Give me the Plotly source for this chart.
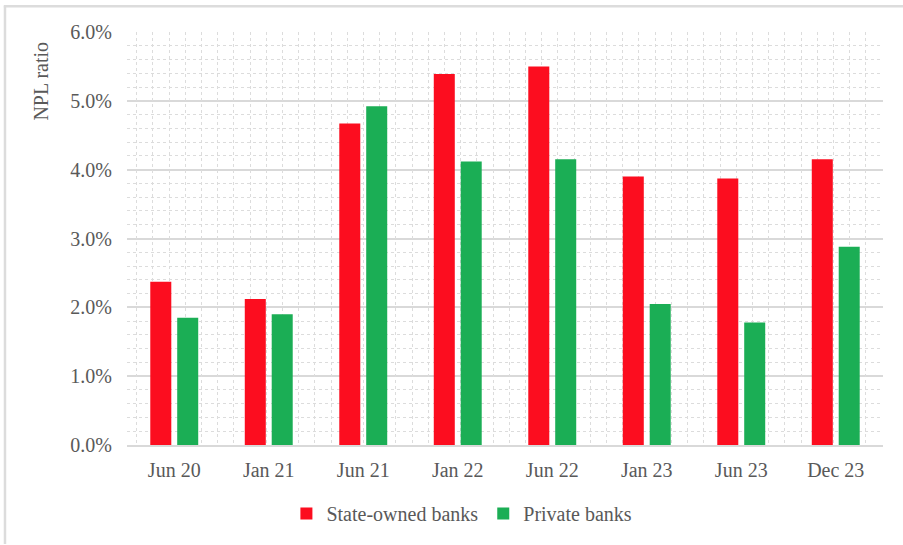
import plotly.graph_objects as go

categories = ["Jun 20", "Jan 21", "Jun 21", "Jan 22", "Jun 22", "Jan 23", "Jun 23", "Dec 23"]
state_owned = [2.37, 2.12, 4.67, 5.39, 5.50, 3.90, 3.87, 4.15]
private = [1.85, 1.90, 4.92, 4.12, 4.15, 2.05, 1.78, 2.88]
y_ticks = [0, 1, 2, 3, 4, 5, 6]
y_labels = ["0.0%", "1.0%", "2.0%", "3.0%", "4.0%", "5.0%", "6.0%"]

FONT = "Liberation Serif"
TXT = "#595959"
GRID = "#d9d9d9"
FS = 20

fig = go.Figure()
fig.add_trace(go.Bar(name="State-owned banks", x=categories, y=state_owned,
                     marker=dict(color="#fc0d1f", line=dict(width=0))))
fig.add_trace(go.Bar(name="Private banks", x=categories, y=private,
                     marker=dict(color="#1bae55", line=dict(width=0))))
# empty helper trace so the dotted vertical grid axis is drawn
fig.add_trace(go.Scatter(x=[], y=[], xaxis="x2", yaxis="y", showlegend=False,
                         hoverinfo="skip"))

fig.update_layout(
    width=903, height=545,
    margin=dict(l=127, r=20, t=32, b=97),
    paper_bgcolor="white", plot_bgcolor="white",
    font=dict(family=FONT, size=FS, color=TXT),
    barmode="group", bargap=0.43, bargroupgap=0.22,
    showlegend=True,
    legend=dict(orientation="h", x=0.443, xanchor="center", y=-0.166, yanchor="middle",
                font=dict(family=FONT, size=FS, color=TXT), itemwidth=30,
                traceorder="normal", bgcolor="rgba(0,0,0,0)"),
    xaxis=dict(type="category", showgrid=False, zeroline=False,
               showline=True, linecolor=GRID, linewidth=1.5,
               ticks="", ticklabelstandoff=6,
               tickfont=dict(family=FONT, size=FS, color=TXT)),
    xaxis2=dict(overlaying="x", range=[-0.6, 46.06], tick0=0, dtick=1,
                showgrid=True, gridcolor="#dcdcdc", griddash="dot", gridwidth=1,
                showticklabels=False, ticks="", zeroline=False, showline=False,
                fixedrange=True),
    yaxis=dict(range=[0, 6], tickvals=y_ticks, ticktext=y_labels,
               showgrid=True, gridcolor=GRID, gridwidth=1.5,
               zeroline=False, showline=False, ticks="", ticklabelstandoff=14,
               tickfont=dict(family=FONT, size=FS, color=TXT),
               minor=dict(dtick=0.2, tick0=0, showgrid=True, gridcolor="#dcdcdc",
                          griddash="dot", gridwidth=1)),
    annotations=[dict(text="NPL ratio", xref="paper", yref="paper",
                      x=-0.115, y=0.88, textangle=-90, showarrow=False,
                      font=dict(family=FONT, size=FS, color=TXT),
                      xanchor="center", yanchor="middle")],
    shapes=[
        dict(type="line", xref="paper", yref="paper", x0=-0.1614, x1=-0.1614,
             y0=1.0625, y1=-0.24, line=dict(color="#dcdcdc", width=2.5)),
        dict(type="line", xref="paper", yref="paper", x0=-0.163, x1=1.03,
             y0=1.0625, y1=1.0625, line=dict(color="#dcdcdc", width=2.5)),
    ],
)

fig.write_html("out.html")
